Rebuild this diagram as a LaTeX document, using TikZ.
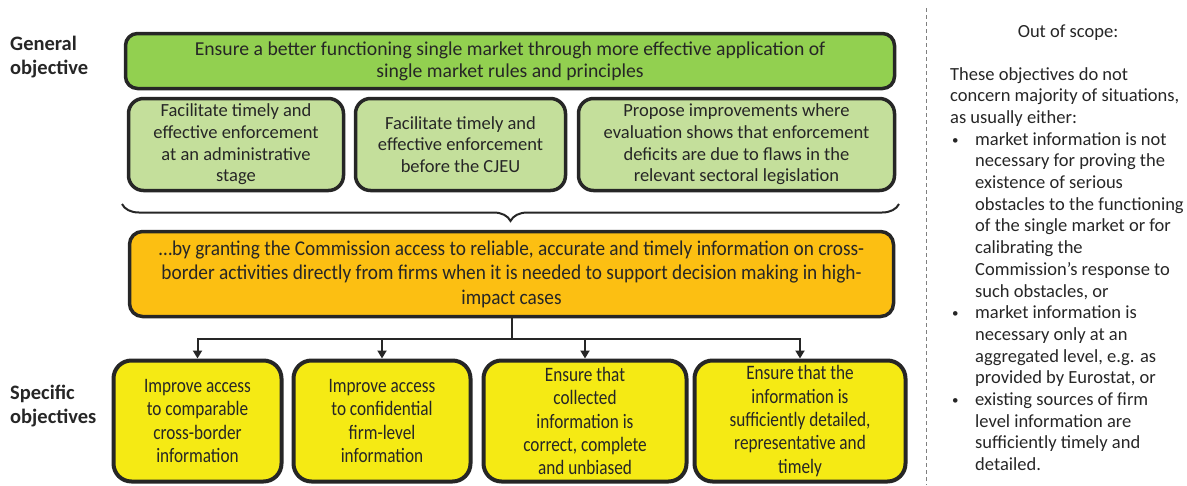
\documentclass[tikz,border=0pt]{standalone}
\usepackage{fontspec}
\setmainfont{Carlito}
\newfontfamily\narrowfont[FakeStretch=0.92]{Carlito}
\newfontfamily\specfont[FakeStretch=0.84]{Carlito}
\usetikzlibrary{
    arrows.meta,
    positioning,
    decorations.pathreplacing
}
\definecolor{dark}{HTML}{262626}
\definecolor{goalgreen}{HTML}{92D050}
\definecolor{aimgreen}{HTML}{C4DF9B}
\definecolor{meansorange}{HTML}{FCBF12}
\definecolor{specyellow}{HTML}{F5EA14}
\definecolor{divider}{HTML}{7F7F7F}
\tikzset{
    % Base objective box
    objective/.style={
        rectangle,
        rounded corners=#1,
        draw=dark,
        line width=3.5pt,
        align=center,
        inner sep=0pt,
        text=dark,
        font=\fontsize{18.5}{21.7}\selectfont
    },
    objective/.default=12pt,
    % General objective
    goal/.style={objective=12pt, fill=goalgreen, minimum width=769pt, minimum height=55pt,
        font=\fontsize{19.7}{22}\selectfont},
    % Sub-objectives
    aim/.style={objective=15pt, fill=aimgreen, minimum width=#1, minimum height=92pt},
    % Means box
    means/.style={objective=13pt, fill=meansorange, minimum width=764pt, minimum height=85pt,
        font=\narrowfont\fontsize{21}{24.5}\selectfont},
    % Specific objectives
    spec/.style={objective=18pt, fill=specyellow, minimum width=#1, minimum height=121pt,
        line width=4pt, font=\specfont\fontsize{20.5}{23.3}\selectfont},
    % Arrow style
    flow/.style={
        -{Triangle[length=8pt, width=9pt]},
        line width=2pt,
        color=dark
    },
    % Row label style
    row label/.style={
        anchor=west,
        align=left,
        inner sep=0pt,
        text=dark,
        font=\bfseries\fontsize{20.5}{24}\selectfont
    },
    % Out of scope text
    scope text/.style={
        anchor=north west,
        align=left,
        inner sep=0pt,
        text=dark,
        font=\fontsize{18.5}{21.7}\selectfont
    }
}
\newcommand{\scopeitem}{\makebox[25pt][l]{\hspace*{2pt}\raisebox{1pt}{\fontsize{13}{13}\selectfont\textbullet}}}
\newcommand{\scopeindent}{\hspace*{25pt}}

\begin{document}
\begin{tikzpicture}[x=1pt, y=-1pt]
    \useasboundingbox (0,0) rectangle (1187,485);

    % Row labels
    \node[row label] (lblgen) at (10,57.5) {General\\objective};
    \node[row label] (lblspec) at (10,406) {Specific\\objectives};

    % General objective
    \node[goal] (goal) at (510,61) {Ensure a better functioning single market through more effective application of\\single market rules and principles};

    % Sub-objectives
    \node[aim=215pt] (aim1) at (236,144.5) {Facilitate timely and\\effective enforcement\\at an administrative\\stage};
    \node[aim=210pt] (aim2) at (460.5,144.5) {Facilitate timely and\\effective enforcement\\before the CJEU};
    \node[aim=316pt] (aim3) at (736.5,144.5) {Propose improvements where\\evaluation shows that enforcement\\deficits are due to flaws in the\\relevant sectoral legislation};

    % Brace
    \draw[dark, line width=2pt, decorate, decoration={brace, mirror, amplitude=17pt}]
        (122,204) -- (899,204);

    % Means
    \node[means] (means) at (511.5,274) {\dots by granting the Commission access to reliable, accurate and timely information on cross-\\border activities directly from firms when it is needed to support decision making in high-\\impact cases};

    % Specific objectives
    \node[spec=168pt] (spec1) at (197.5,421) {Improve access\\to comparable\\cross-border\\information};
    \node[spec=177pt] (spec2) at (382,421) {Improve access\\to confidential\\firm-level\\information};
    \node[spec=203pt] (spec3) at (585,421) {Ensure that\\collected\\information is\\correct, complete\\and unbiased};
    \node[spec=211pt] (spec4) at (800,421) {Ensure that the\\information is\\sufficiently detailed,\\representative and\\timely};

    % Connections
    \coordinate (split) at (means.south |- 0,339);
    \draw[dark, line width=2pt] (means.south) -- (split);
    \draw[flow] (split) -| (spec1.north);
    \draw[flow] (split) -| (spec2.north);
    \draw[flow] (split) -| (spec3.north);
    \draw[flow] (split) -| (spec4.north);

    % Out of scope
    \coordinate (divtop) at (926,8);
    \coordinate (divbot) at (926,485);
    \draw[divider, line width=1pt, dash pattern=on 4pt off 3pt] (divtop) -- (divbot);
    \node[scope text, anchor=center] (scopetitle) at (1068,33) {Out of scope:};
    \node[scope text] (scope) at (950,67) {These objectives do not\\
        concern majority of situations,\\
        as usually either:\\
        \scopeitem market information is not\\
        \scopeindent necessary for proving the\\
        \scopeindent existence of serious\\
        \scopeindent obstacles to the functioning\\
        \scopeindent of the single market or for\\
        \scopeindent calibrating the\\
        \scopeindent Commission's response to\\
        \scopeindent such obstacles, or\\
        \scopeitem market information is\\
        \scopeindent necessary only at an\\
        \scopeindent aggregated level, e.g. as\\
        \scopeindent provided by Eurostat, or\\
        \scopeitem existing sources of firm\\
        \scopeindent level information are\\
        \scopeindent sufficiently timely and\\
        \scopeindent detailed.};

\end{tikzpicture}
\end{document}
